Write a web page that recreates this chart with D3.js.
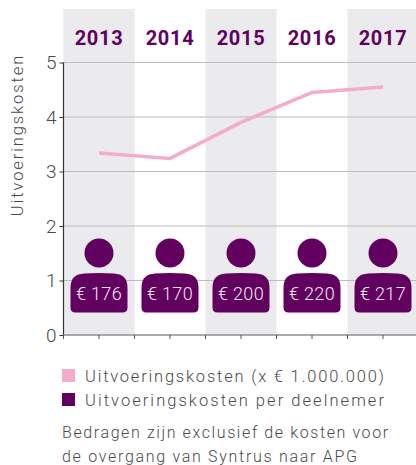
<!DOCTYPE html>
<html>
<head>
<meta charset="utf-8">
<script src="https://cdn.jsdelivr.net/npm/d3@7"></script>
<style>
  html, body { margin: 0; padding: 0; background: #fff; }
  svg { display: block; }
  text { font-family: Roboto, sans-serif; }
</style>
</head>
<body>
<svg width="416" height="465"></svg>
<script>
let years = ['2013', '2014', '2015', '2016', '2017']
let costs = [3.34, 3.24, 3.9, 4.45, 4.55]
let perMember = [176, 170, 200, 220, 217]
let yTicks = [0, 1, 2, 3, 4, 5]
let legendLabels = ['Uitvoeringskosten (x € 1.000.000)', 'Uitvoeringskosten per deelnemer']
let noteLines = ['Bedragen zijn exclusief de kosten voor', 'de overgang van Syntrus naar APG']

let pink = '#f5abcd'
let purple = '#62005f'
let grey = '#4a4a4c'

let svg = d3.select('svg')

let x = d3.scaleBand().domain(years).range([63.5, 418.5])
let y = d3.scaleLinear().domain([0, 5]).range([335, 62.5])

// grey bands behind every other year
svg.selectAll('rect.band')
  .data(years.filter((d, i) => i % 2 == 0))
  .enter().append('rect')
  .attr('class', 'band')
  .attr('x', d => x(d))
  .attr('y', 9)
  .attr('width', d => Math.min(x.bandwidth(), 416 - x(d)))
  .attr('height', y(0) - 9)
  .attr('fill', '#ebebed')

// gridlines
svg.selectAll('line.grid')
  .data(yTicks.filter(d => d > 0))
  .enter().append('line')
  .attr('class', 'grid')
  .attr('x1', 63.5)
  .attr('x2', 416)
  .attr('y1', d => y(d))
  .attr('y2', d => y(d))
  .attr('stroke', '#bdbcbe')
  .attr('stroke-width', 1.2)

// axes
let yAxis = svg.append('g')
  .attr('transform', 'translate(63.5,0)')
  .call(d3.axisLeft(y).tickValues(yTicks).tickFormat(d3.format('d')).tickSize(4).tickPadding(3))
yAxis.selectAll('text')
  .attr('font-size', 19)
  .attr('font-weight', 300)
  .attr('fill', grey)
  .style('font-family', 'Roboto, sans-serif')
yAxis.selectAll('line').attr('stroke', '#333')
yAxis.select('.domain').attr('stroke', '#333').attr('stroke-width', 1.2).attr('d', 'M0,' + y(5) + 'V' + y(0))

svg.append('line')
  .attr('x1', 63.5).attr('x2', 416)
  .attr('y1', y(0)).attr('y2', y(0))
  .attr('stroke', '#8e8e90').attr('stroke-width', 1.5)

// ticks at band edges and centres
let tickXs = []
years.forEach(d => {
  tickXs.push(x(d))
  tickXs.push(x(d) + x.bandwidth() / 2)
})
svg.selectAll('line.xtick')
  .data(tickXs)
  .enter().append('line')
  .attr('class', 'xtick')
  .attr('x1', d => d).attr('x2', d => d)
  .attr('y1', y(0)).attr('y2', y(0) + 4)
  .attr('stroke', '#555')

// year labels
svg.selectAll('text.year')
  .data(years)
  .enter().append('text')
  .attr('class', 'year')
  .attr('x', d => x(d) + x.bandwidth() / 2)
  .attr('y', 45)
  .attr('text-anchor', 'middle')
  .attr('font-size', 20)
  .attr('font-weight', 700)
  .attr('letter-spacing', 0.7)
  .attr('fill', purple)
  .text(d => d)

// y title
svg.append('text')
  .attr('transform', 'translate(23,135) rotate(-90)')
  .attr('text-anchor', 'middle')
  .attr('font-size', 16.5)
  .attr('font-weight', 300)
  .attr('letter-spacing', 1.9)
  .attr('fill', grey)
  .text('Uitvoeringskosten')

// cost line
let line = d3.line()
  .x((d, i) => x(years[i]) + x.bandwidth() / 2)
  .y(d => y(d))
svg.append('path')
  .datum(costs)
  .attr('d', line)
  .attr('fill', 'none')
  .attr('stroke', pink)
  .attr('stroke-width', 3.5)

// person icons with the per member amount
let people = svg.selectAll('g.person')
  .data(perMember)
  .enter().append('g')
  .attr('class', 'person')
  .attr('transform', (d, i) => 'translate(' + (x(years[i]) + x.bandwidth() / 2) + ',0)')

people.append('circle')
  .attr('cy', 253)
  .attr('r', 14.5)
  .attr('fill', purple)

people.append('path')
  .attr('d', 'M-28.5,307.5 L-28.5,288 C-28.5,277 -23,274.5 -15,273.6 C-5,272.8 5,272.8 15,273.6 C23,274.5 28.5,277 28.5,288 L28.5,307.5 Q28.5,312.5 23.5,312.5 L-23.5,312.5 Q-28.5,312.5 -28.5,307.5 Z')
  .attr('fill', purple)

people.append('text')
  .attr('y', 300)
  .attr('text-anchor', 'middle')
  .attr('font-size', 18)
  .attr('font-weight', 300)
  .attr('letter-spacing', 0.3)
  .attr('fill', '#f3e8f1')
  .text(d => '€ ' + d)

// legend
let legendColors = [pink, purple]
let legend = svg.selectAll('g.legend')
  .data(legendLabels)
  .enter().append('g')
  .attr('class', 'legend')
  .attr('transform', (d, i) => 'translate(62,' + (369 + i * 24) + ')')
legend.append('rect')
  .attr('width', 13)
  .attr('height', 13)
  .attr('fill', (d, i) => legendColors[i])
legend.append('text')
  .attr('x', 23)
  .attr('y', 13)
  .attr('font-size', 16.5)
  .attr('font-weight', 300)
  .attr('textLength', 299)
  .attr('lengthAdjust', 'spacing')
  .attr('fill', grey)
  .text(d => d)

// note
svg.selectAll('text.note')
  .data(noteLines)
  .enter().append('text')
  .attr('class', 'note')
  .attr('x', 62)
  .attr('y', (d, i) => 438 + i * 24)
  .attr('font-size', 16)
  .attr('font-weight', 300)
  .attr('letter-spacing', (d, i) => i == 0 ? 1.6 : 1.7)
  .attr('fill', grey)
  .text(d => d)
</script>
</body>
</html>
